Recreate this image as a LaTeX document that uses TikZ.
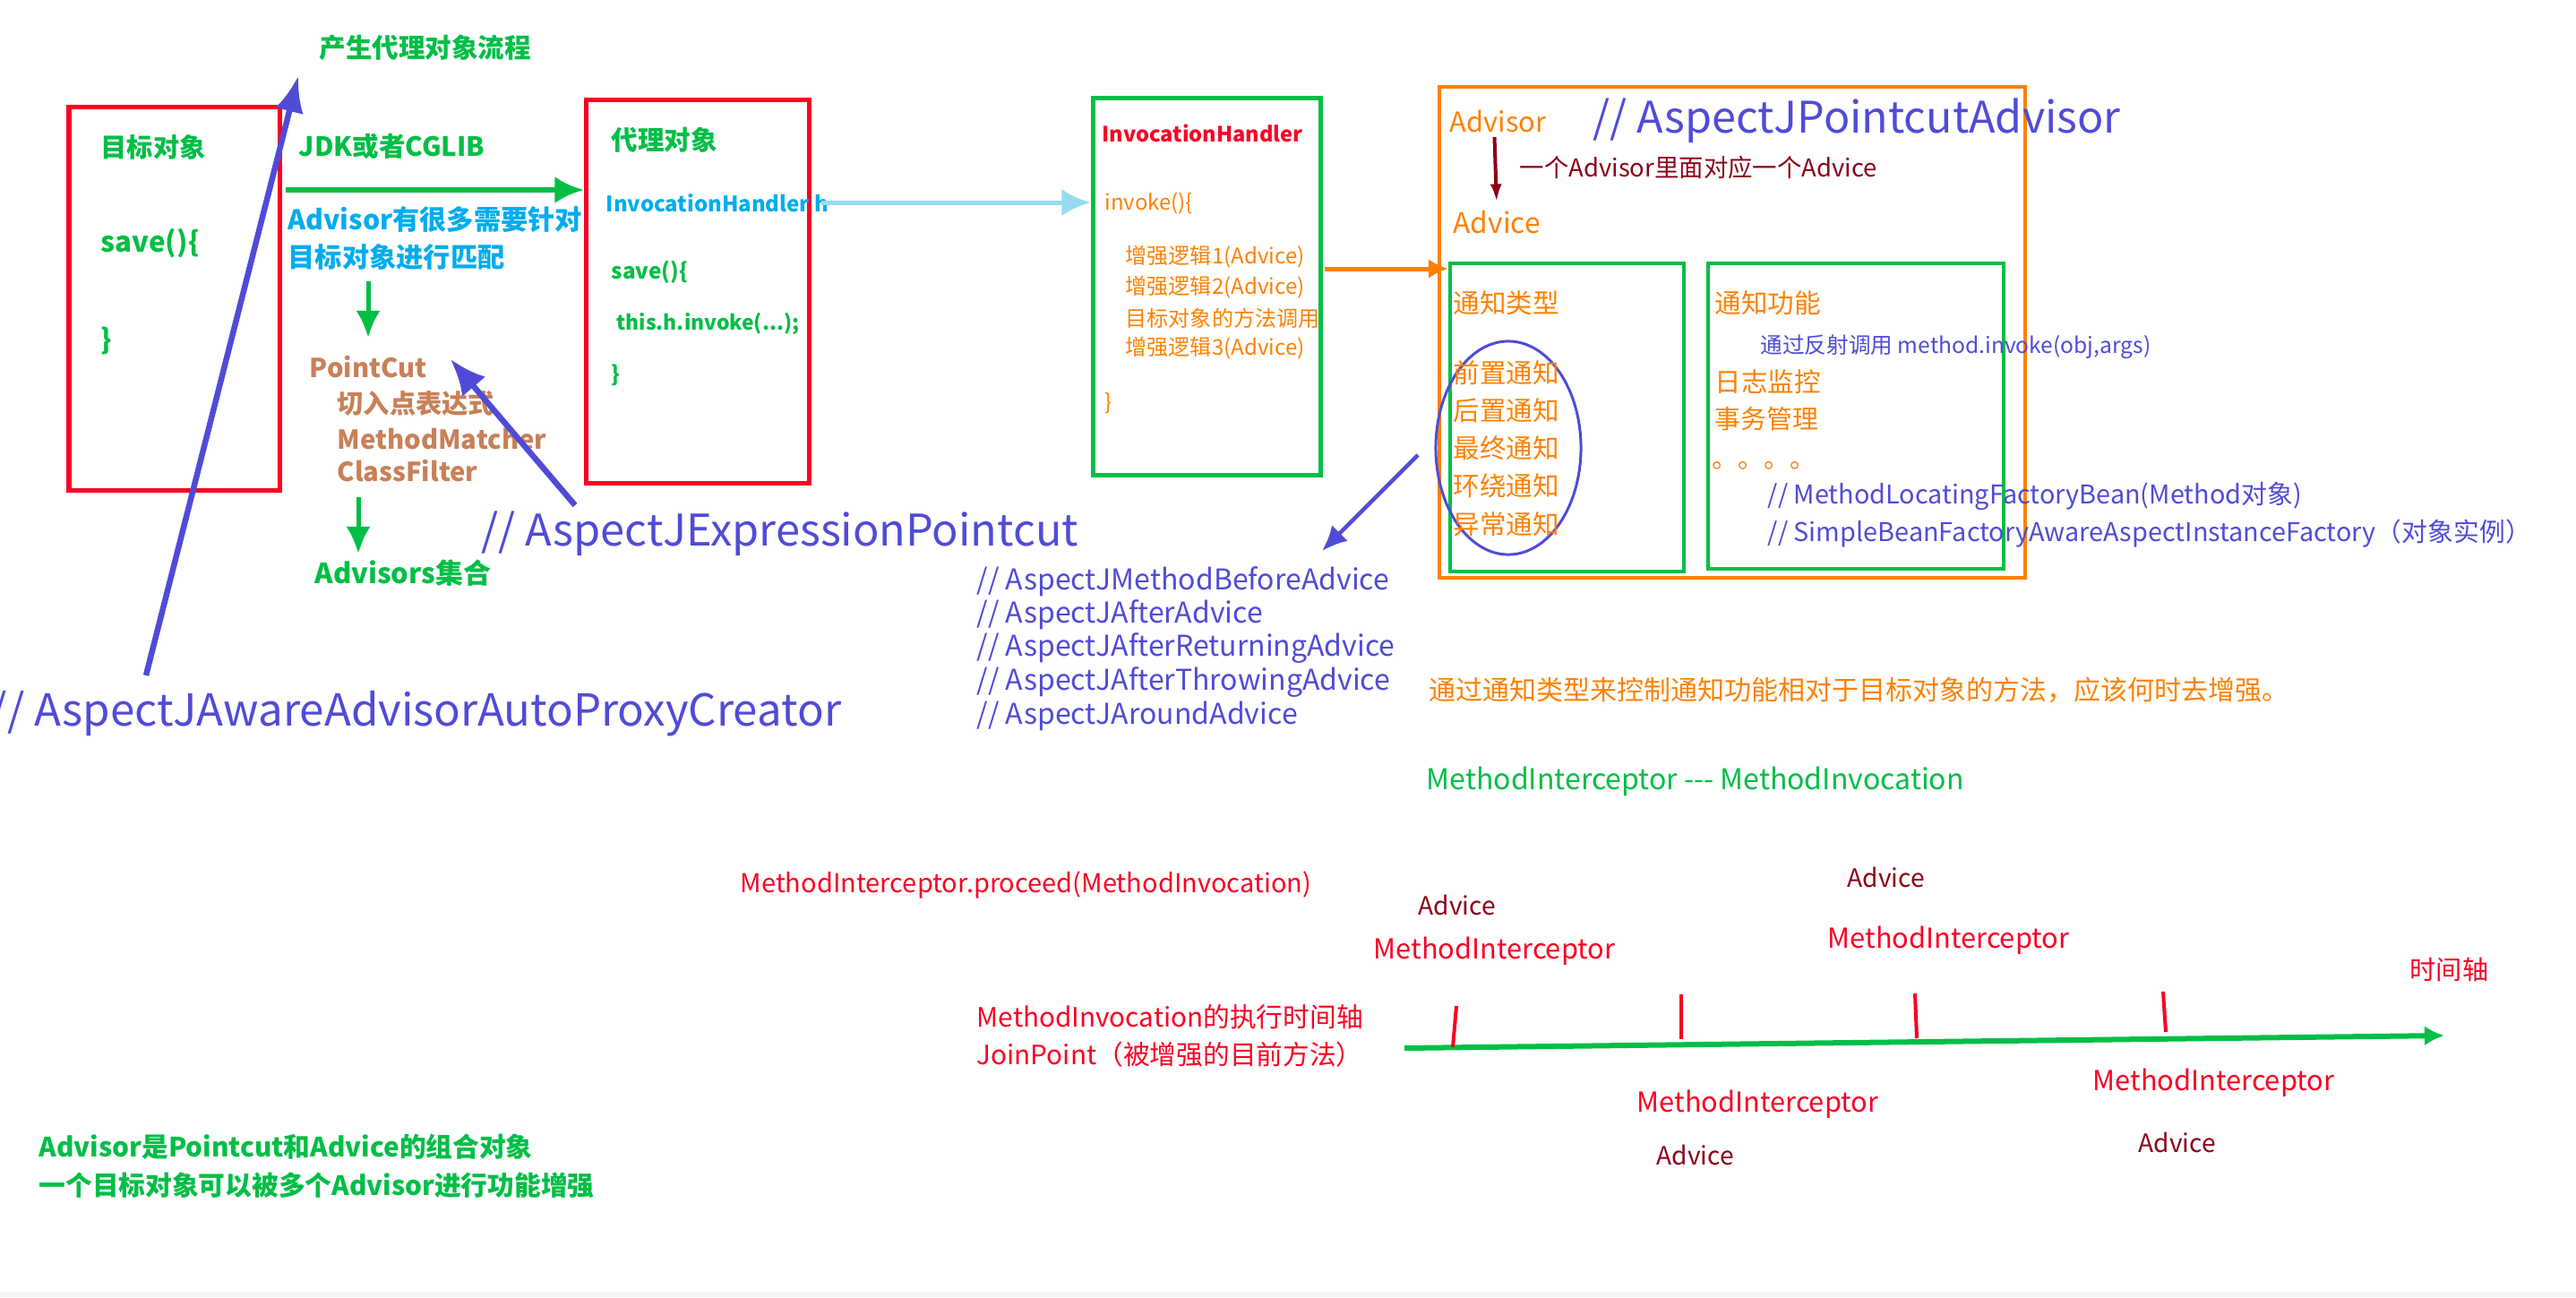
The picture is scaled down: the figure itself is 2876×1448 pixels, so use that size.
\documentclass[tikz,border=0pt]{standalone}
\usepackage{fontspec}
\setmainfont{Noto Sans CJK SC}
\usepackage{tikz}
\usetikzlibrary{calc,shapes,arrows.meta,fit}

\definecolor{cgreen}{RGB}{0,190,70}
\definecolor{cred}{RGB}{250,0,35}
\definecolor{ccyan}{RGB}{0,172,238}
\definecolor{clcyan}{RGB}{150,220,238}
\definecolor{cbrown}{RGB}{200,128,88}
\definecolor{corange}{RGB}{255,128,0}
\definecolor{cblue}{RGB}{80,75,215}
\definecolor{cdred}{RGB}{140,0,25}

\newcommand{\tsize}[1]{\fontsize{#1pt}{#1pt}\selectfont}

\tikzset{
  txt/.style={anchor=west,inner sep=0pt},
  boxed/.style={draw=#1,line width=0.05cm,inner sep=0pt,rectangle},
  arr/.style={draw=#1,line width=0.06cm,-{Latex[length=0.32cm,width=0.3cm]}},
}

\begin{document}
\begin{tikzpicture}[x=0.01cm,y=-0.01cm]
        \useasboundingbox (0,0) rectangle (2876,1448);
        \fill[black!4] (0,1442) rectangle (2876,1448);
        % boxes
        \node[boxed=cred,fit={(77,119) (312,547)}] (target) {};
        \node[boxed=cred,fit={(654,111) (903,539)}] (proxy) {};
        \node[boxed=cgreen,fit={(1220,109) (1474,530)}] (ihbox) {};
        \node[boxed=corange,line width=0.045cm,fit={(1607,97) (2261,645)}] (advbox) {};
        \node[boxed=cgreen,line width=0.045cm,fit={(1619,294) (1880,638)}] (kindbox) {};
        \node[boxed=cgreen,line width=0.045cm,fit={(1907,294) (2237,635)}] (funcbox) {};
        \node[draw=cblue,line width=0.03cm,ellipse,minimum width=1.62cm,minimum height=2.38cm,inner sep=0pt] (kindring) at (1684,500) {};

        % left part
        \node[txt,text=cgreen,font=\bfseries\tsize{8.4}] (title) at (356,53) {产生代理对象流程};
        \node[txt,text=cgreen,font=\bfseries\tsize{8.3}] (tgtname) at (112,164) {目标对象};
        \node[txt,text=cgreen,font=\bfseries\tsize{8.9}] (tgtsave) at (112,272) {save()\{};
        \node[txt,text=cgreen,font=\bfseries\tsize{8.9}] (tgtend) at (112,381) {\}};
        \node[txt,text=cgreen,font=\bfseries\tsize{8.4}] (jdk) at (333,163) {JDK或者CGLIB};
        \node[txt,text=ccyan,align=left,font=\bfseries\fontsize{8.6pt}{12.2pt}\selectfont] (match) at (321,266) {Advisor有很多需要针对\\目标对象进行匹配};
        \node[txt,text=cbrown,font=\bfseries\tsize{8.3}] (pc) at (345,410) {PointCut};
        \node[txt,text=cbrown,font=\bfseries\tsize{8.3}] (pcexpr) at (376,450) {切入点表达式};
        \node[txt,text=cbrown,font=\bfseries\tsize{8.3}] (pcmm) at (376,490) {MethodMatcher};
        \node[txt,text=cbrown,font=\bfseries\tsize{8.3}] (pccf) at (376,526) {ClassFilter};
        \node[txt,text=cgreen,font=\bfseries\tsize{8.8}] (advisors) at (351,640) {Advisors集合};
        \node[txt,text=cgreen,font=\bfseries\tsize{8.4}] (proxyname) at (682,156) {代理对象};
        \node[txt,text=ccyan,font=\bfseries\tsize{6.8}] (proxyh) at (676,227) {InvocationHandler h};
        \node[txt,text=cgreen,font=\bfseries\tsize{6.9}] (proxysave) at (682,304) {save()\{};
        \node[txt,text=cgreen,font=\bfseries\tsize{6.5}] (proxycall) at (688,361) {this.h.invoke(...);};
        \node[txt,text=cgreen,font=\bfseries\tsize{6.9}] (proxyend) at (682,419) {\}};
        \node[txt,text=cblue,font=\tsize{13.85}] (exprpc) at (537,596) {// AspectJExpressionPointcut};
        \node[txt,text=cblue,font=\tsize{14}] (creator) at (-12,797) {// AspectJAwareAdvisorAutoProxyCreator};
        \node[txt,text=cgreen,align=left,font=\bfseries\fontsize{8.45pt}{12.2pt}\selectfont] (summary) at (43,1302) {Advisor是Pointcut和Advice的组合对象\\一个目标对象可以被多个Advisor进行功能增强};

        % InvocationHandler
        \node[txt,text=cred,font=\bfseries\tsize{6.7}] (ihname) at (1230,149) {InvocationHandler};
        \node[txt,text=corange,font=\tsize{6.8}] (ihinvoke) at (1233,227) {invoke()\{};
        \foreach \s [count=\i from 0] in {增强逻辑1(Advice),增强逻辑2(Advice),目标对象的方法调用,增强逻辑3(Advice)}
        \node[txt,text=corange,font=\tsize{6.85}] (ihstep\i) at (1256,{287+34*\i}) {\s};
        \node[txt,text=corange,font=\tsize{6.8}] (ihend) at (1233,450) {\}};

        % Advisor box
        \node[txt,text=corange,font=\tsize{8.75}] (advisor) at (1618,135) {Advisor};
        \node[txt,text=cblue,font=\tsize{13.8}] (pcadvisor) at (1778,135) {// AspectJPointcutAdvisor};
        \node[txt,text=cdred,font=\tsize{7.8}] (one2one) at (1696,187) {一个Advisor里面对应一个Advice};
        \node[txt,text=corange,font=\tsize{9}] (advice) at (1622,248) {Advice};
        \node[txt,text=corange,font=\tsize{8.4}] (kindtitle) at (1622,338) {通知类型};
        \foreach \k [count=\i from 0] in {前置通知,后置通知,最终通知,环绕通知,异常通知}
        \node[txt,text=corange,font=\tsize{8.4}] (kind\i) at (1622,{416+42.25*\i}) {\k};
        \node[txt,text=corange,font=\tsize{8.4}] (functitle) at (1914,338) {通知功能};
        \node[txt,text=cblue,font=\tsize{7}] (reflect) at (1965,387) {通过反射调用 method.invoke(obj,args)};
        \node[txt,text=corange,font=\tsize{8.4}] (log) at (1914,426) {日志监控};
        \node[txt,text=corange,font=\tsize{8.2}] (tx) at (1914,468) {事务管理};
        \node[txt,text=corange,font=\tsize{8.2}] (dots) at (1911,520) {。。。。};
        \node[txt,text=cblue,font=\tsize{8.2}] (mlfb) at (1973,554) {// MethodLocatingFactoryBean(Method对象)};
        \node[txt,text=cblue,font=\tsize{8.2}] (sbf) at (1973,596) {// SimpleBeanFactoryAwareAspectInstanceFactory（对象实例）};
        \foreach \a [count=\i from 0] in {AspectJMethodBeforeAdvice,AspectJAfterAdvice,AspectJAfterReturningAdvice,AspectJAfterThrowingAdvice,AspectJAroundAdvice}
        \node[txt,text=cblue,font=\tsize{9.1}] (advcls\i) at (1090,{649+37.5*\i}) {// \a};
        \node[txt,text=corange,font=\tsize{8.53}] (when) at (1595,770) {通过通知类型来控制通知功能相对于目标对象的方法，应该何时去增强。};

        % time line
        \node[txt,text=cgreen,font=\tsize{9.1}] (mimi) at (1592,872) {MethodInterceptor -{}-{}- MethodInvocation};
        \node[txt,text=cred,font=\tsize{8.25}] (proceed) at (826,988) {MethodInterceptor.proceed(MethodInvocation)};
        \node[txt,text=cred,align=left,font=\fontsize{8.45pt}{12pt}\selectfont] (axisname) at (1090,1156) {MethodInvocation的执行时间轴\\JoinPoint（被增强的目前方法）};
        \node[txt,text=cred,font=\tsize{8.3}] (timeaxis) at (2690,1082) {时间轴};
        \foreach \x/\y [count=\i] in {1533/1062,2040/1050,1827/1233,2336/1209}
        \node[txt,text=cred,font=\tsize{8.75}] (mi\i) at (\x,\y) {MethodInterceptor};
        \foreach \x/\y [count=\i] in {1583/1010,2062/979,1849/1289,2387/1275}
        \node[txt,text=cdred,font=\tsize{8}] (adv\i) at (\x,\y) {Advice};

        % connectors
        \coordinate (jdkt) at (319,212);
        \coordinate (hht) at (917,226);
        \coordinate (iht) at (1479,300);
        \coordinate (crt) at (163,754);
        \coordinate (crh) at (333,85);
        \coordinate (ept) at (642,564);
        \coordinate (eph) at (503,401);
        \coordinate (d1t) at (411,314);
        \coordinate (d1h) at (411,377);
        \coordinate (d2t) at (400,555);
        \coordinate (d2h) at (400,618);
        \coordinate (kt) at (1583,508);
        \coordinate (kh) at (1476,615);
        \coordinate (tlt) at (1568,1170);
        \coordinate (tlh) at (2729,1156);
        \draw[arr=cgreen] (jdkt) -- (jdkt -| proxy.west);
        \draw[arr=clcyan,line width=0.05cm] (hht) -- (hht -| ihbox.west);
        \draw[arr=corange,line width=0.05cm,-{Latex[length=0.22cm,width=0.22cm]}] (iht) -- (iht -| kindbox.west);
        \draw[arr=cdred,line width=0.04cm,-{Latex[length=0.2cm,width=0.13cm]},shorten <=0.05cm,shorten >=0.09cm] ([xshift=-0.04cm]advisor.south) -- (advice.north);
        \draw[arr=cblue,line width=0.065cm,-{Latex[length=0.4cm,width=0.32cm]}] (crt) -- (crh);
        \draw[arr=cblue,line width=0.065cm,-{Latex[length=0.4cm,width=0.34cm]}] (ept) -- (eph);
        \draw[arr=cgreen,line width=0.05cm,-{Latex[length=0.3cm,width=0.27cm]}] (d1t) -- (d1h);
        \draw[arr=cgreen,line width=0.05cm,-{Latex[length=0.3cm,width=0.27cm]}] (d2t) -- (d2h);
        \draw[arr=cblue,line width=0.045cm,-{Latex[length=0.28cm,width=0.25cm]}] (kt) -- (kh);
        \draw[arr=cgreen,line width=0.06cm,-{Latex[length=0.22cm,width=0.22cm]}] (tlt) -- (tlh);
        \foreach \a/\b/\c/\d in {1626/1123/1622/1169,1877/1110/1877/1160,2138/1109/2140/1159,2415/1107/2418/1152}
        \draw[cred,line width=0.04cm] (\a,\b) -- (\c,\d);
\end{tikzpicture}
\end{document}
